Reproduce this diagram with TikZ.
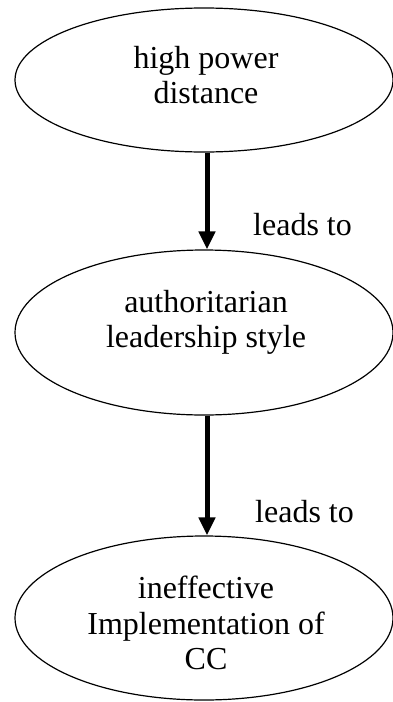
\documentclass[tikz,border=0pt]{standalone}
\usepackage{fontspec}
\setmainfont{Liberation Serif}
\usetikzlibrary{shapes.geometric,arrows.meta}
\begin{document}
\begin{tikzpicture}[x=1pt,y=-1pt,
  bubble/.style={ellipse,draw,line width=1.2pt,inner sep=0pt,minimum width=378pt},
  txt/.style={anchor=north,align=center,inner sep=0pt,font=\fontsize{32}{35.5}\selectfont},
  flow/.style={line width=5pt,-{Triangle[length=18pt,width=16pt]}},
  lbl/.style={anchor=base west,font=\fontsize{32}{35}\selectfont,inner sep=0pt}]
\useasboundingbox (0,0) rectangle (393,702);
\node[bubble,minimum height=144pt] (a) at (204,80) {};
\node[bubble,minimum height=165pt] (b) at (204,332.5) {};
\node[bubble,minimum height=164pt] (c) at (204,618) {};
\node[txt] (at) at (206,46) {high power\\distance};
\node[txt] (bt) at (206,290) {authoritarian\\leadership style};
\node[txt] (ct) at (206,576) {ineffective\\Implementation of\\CC};
\draw[flow] ([xshift=3pt]a.south) -- ([xshift=3pt]b.north);
\draw[flow] ([xshift=3pt]b.south) -- ([xshift=3pt]c.north);
\node[lbl] (l1) at (253,235) {leads to};
\node[lbl] (l2) at (255,522) {leads to};
\end{tikzpicture}
\end{document}
